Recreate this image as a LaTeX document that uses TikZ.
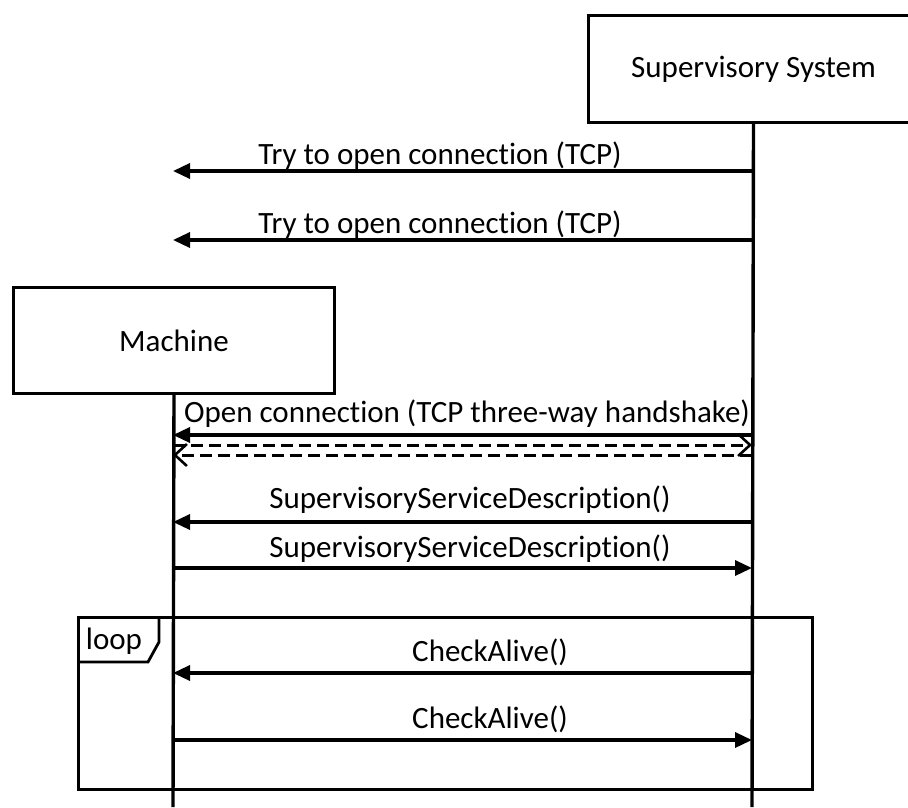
\documentclass[tikz,border=0pt]{standalone}
\usepackage{fontspec}
\setmainfont{Carlito}[Ligatures=NoCommon]
\usetikzlibrary{arrows.meta}
\begin{document}
\begin{tikzpicture}[x=1pt,y=-1pt,
  msg/.style={line width=3.4pt,-{Triangle[length=17pt,width=15pt]}},
  ret/.style={line width=3pt,dash pattern=on 12pt off 6pt,-{Straight Barb[length=12pt,width=22pt,line width=2.6pt]}},
  lbl/.style={font=\fontsize{31}{36}\selectfont,inner sep=0pt},
  actor/.style={draw,line width=3pt,font=\fontsize{31}{36}\selectfont,inner sep=0pt,anchor=north west},
  life/.style={line width=3.4pt},
  frame/.style={draw,line width=3pt,inner sep=0pt,anchor=north west}]
\useasboundingbox (0,0) rectangle (908,807);
\clip (0,0) rectangle (908,807);
% actors
\node[actor,minimum width=330,minimum height=107] (sup) at (587,14) {Supervisory System};
\node[actor,minimum width=321,minimum height=106] (mach) at (12,286) {Machine};
\coordinate (supend) at (752,807);
\coordinate (machend) at (173,807);
\draw[life] (sup.south) -- (supend);
\draw[life] (mach.south) -- (machend);
% end points
\coordinate (s1) at (752,171); \coordinate (m1) at (173,171);
\coordinate (s2) at (752,240); \coordinate (m2) at (173,240);
\coordinate (s3) at (752,435); \coordinate (m3) at (173,435);
\coordinate (s4) at (752,445); \coordinate (m4) at (173,445);
\coordinate (s5) at (752,455); \coordinate (m5) at (173,455);
\coordinate (s6) at (752,522); \coordinate (m6) at (173,522);
\coordinate (s7) at (752,568); \coordinate (m7) at (173,568);
\coordinate (s8) at (752,673); \coordinate (m8) at (173,673);
\coordinate (s9) at (752,740); \coordinate (m9) at (173,740);
% messages
\draw[msg] (s1) -- (m1);
\node[lbl] (l1) at (440,156) {Try to open connection (TCP)};
\draw[msg] (s2) -- (m2);
\node[lbl] (l2) at (440,225) {Try to open connection (TCP)};
\draw[msg] (s3) -- (m3);
\node[lbl] (l3) at (467,414) {Open connection (TCP three-way handshake)};
\draw[ret] (m4) -- (s4);
\draw[ret] (s5) -- (m5);
\draw[msg] (s6) -- (m6);
\node[lbl] (l6) at (470,500) {SupervisoryServiceDescription()};
\draw[msg] (m7) -- (s7);
\node[lbl] (l7) at (470,549) {SupervisoryServiceDescription()};
% loop frame
\node[frame,minimum width=734,minimum height=172] (loopframe) at (77,616) {};
\draw[line width=2.8pt,line join=miter] (159,616) -- (159,642) -- (148,662) -- (77,662);
\node[lbl] (looplbl) at (114,641) {loop};
\draw[msg] (s8) -- (m8);
\node[lbl] (l8) at (490,652) {CheckAlive()};
\draw[msg] (m9) -- (s9);
\node[lbl] (l9) at (490,719) {CheckAlive()};
\end{tikzpicture}
\end{document}
